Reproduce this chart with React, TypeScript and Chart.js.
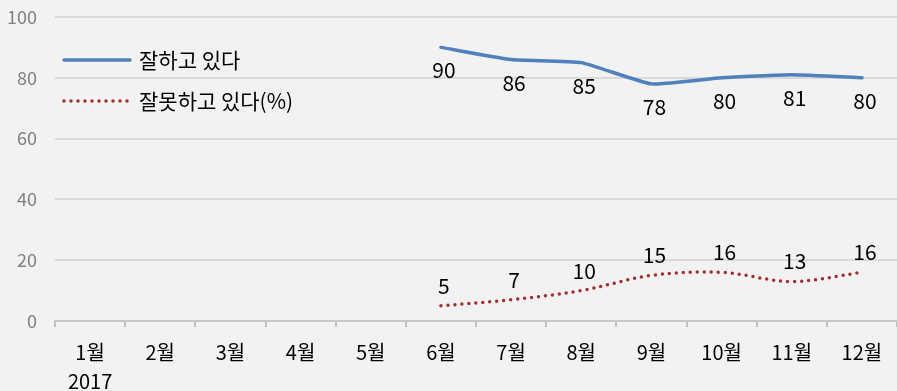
import React, { useEffect, useRef } from "react";
import { Chart, registerables } from "chart.js";

Chart.register(...registerables);

const categories: (string | string[])[] = [["1월", "2017"], "2월", "3월", "4월", "5월", "6월", "7월", "8월", "9월", "10월", "11월", "12월"];
const goodValues: (number | null)[] = [null, null, null, null, null, 90, 86, 85, 78, 80, 81, 80];
const badValues: (number | null)[] = [null, null, null, null, null, 5, 7, 10, 15, 16, 13, 16];
const seriesNames = ["잘하고 있다", "잘못하고 있다(%)"];
const yTicks = [0, 20, 40, 60, 80, 100];

const FONT = "'Noto Sans CJK KR', 'Noto Sans', sans-serif";
const BLUE = "#4f81bd";
const RED = "#a0302f";

export default function App() {
  const ref = useRef<HTMLCanvasElement | null>(null);

  useEffect(() => {
    document.body.style.margin = "0";
    document.body.style.background = "#f2f2f2";
    const canvas = ref.current;
    if (!canvas) return;

    const bgPlugin = {
      id: "bg",
      beforeDraw(chart: any) {
        const { ctx, width, height } = chart;
        ctx.save();
        ctx.fillStyle = "#f2f2f2";
        ctx.fillRect(0, 0, width, height);
        ctx.restore();
      },
    };

    const labelPlugin = {
      id: "labels",
      afterDatasetsDraw(chart: any) {
        const ctx = chart.ctx;
        ctx.save();
        ctx.font = `21px ${FONT}`;
        ctx.fillStyle = "#000";
        ctx.textAlign = "center";
        ctx.textBaseline = "middle";
        chart.data.datasets.forEach((ds: any, di: number) => {
          const meta = chart.getDatasetMeta(di);
          meta.data.forEach((pt: any, i: number) => {
            const v = ds.data[i];
            if (v === null || v === undefined) return;
            const dy = di === 0 ? 23 : -20;
            ctx.fillText(String(v), pt.x + 3, pt.y + dy);
          });
        });
        // legend
        const items = [
          { color: BLUE, dash: [] as number[], y: 60, text: seriesNames[0] },
          { color: RED, dash: [0, 7], y: 101, text: seriesNames[1] },
        ];
        items.forEach((it) => {
          ctx.beginPath();
          ctx.strokeStyle = it.color;
          ctx.lineWidth = 3.5;
          ctx.lineCap = "round";
          ctx.setLineDash(it.dash);
          ctx.moveTo(64, it.y);
          ctx.lineTo(130, it.y);
          ctx.stroke();
          ctx.setLineDash([]);
          ctx.textAlign = "left";
          ctx.fillStyle = "#000";
          ctx.fillText(it.text, 139, it.y);
        });
        ctx.restore();
      },
    };

    const chart = new Chart(canvas, {
      type: "line",
      data: {
        labels: categories,
        datasets: [
          {
            label: seriesNames[0],
            data: goodValues,
            borderColor: BLUE,
            backgroundColor: BLUE,
            borderWidth: 3.5,
            pointRadius: 0,
            tension: 0.15,
            borderCapStyle: "round",
          },
          {
            label: seriesNames[1],
            data: badValues,
            borderColor: RED,
            backgroundColor: RED,
            borderWidth: 3.5,
            borderDash: [0, 7],
            borderCapStyle: "round",
            pointRadius: 0,
            tension: 0.35,
          },
        ],
      },
      options: {
        responsive: true,
        maintainAspectRatio: false,
        animation: false,
        layout: { padding: { top: 17, right: 0, left: 0, bottom: 0 } },
        plugins: {
          legend: { display: false },
          tooltip: { enabled: false },
        },
        scales: {
          x: {
            offset: true,
            afterFit: (s: any) => {
              s.height = 70;
              s.paddingLeft = 0;
              s.paddingRight = 0;
            },
            grid: {
              offset: true,
              drawOnChartArea: false,
              drawTicks: true,
              tickLength: 6,
              color: "#bfbfbf",
              lineWidth: 2,
            },
            border: { color: "#c8c8c8", width: 2 },
            ticks: {
              color: "#000",
              font: { family: FONT, size: 20, lineHeight: 1.45 },
              padding: 11,
              maxRotation: 0,
              autoSkip: false,
            },
          },
          y: {
            min: 0,
            max: 100,
            afterBuildTicks: (axis: any) => {
              axis.ticks = yTicks.map((v) => ({ value: v }));
            },
            afterFit: (s: any) => {
              s.width = 55;
              s.paddingTop = 0;
              s.paddingBottom = 0;
            },
            grid: { color: "#d9d9d9", lineWidth: 2, drawTicks: false },
            border: { display: false },
            ticks: {
              color: "#808080",
              font: { family: FONT, size: 18 },
              padding: 18,
            },
          },
        },
      },
      plugins: [bgPlugin, labelPlugin],
    });
    return () => chart.destroy();
  }, []);

  return (
    <div style={{ width: 897, height: 391, position: "relative", background: "#f2f2f2" }}>
      <canvas ref={ref} />
    </div>
  );
}
